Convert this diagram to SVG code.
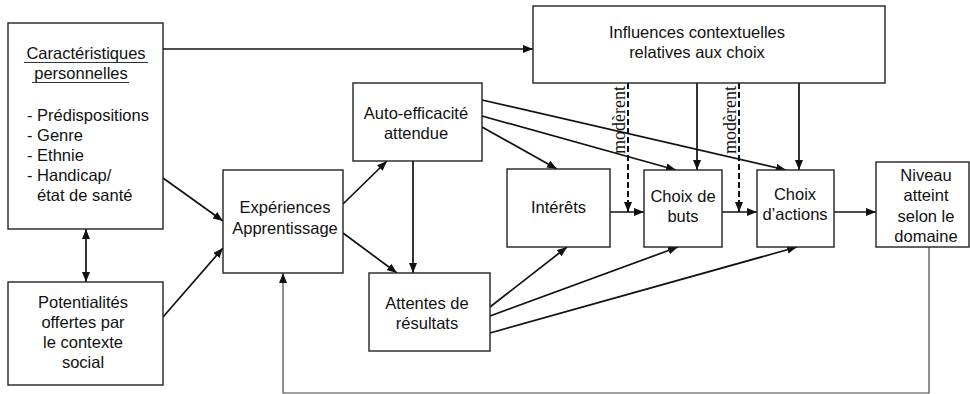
<svg xmlns="http://www.w3.org/2000/svg" width="970" height="394" viewBox="0 0 970 394">
<style>
.box{fill:#fff;stroke:#222;stroke-width:1.4}
.t{font-family:"Liberation Sans",Arial,sans-serif;font-size:16.5px;fill:#111;text-anchor:middle}
.tl{font-family:"Liberation Sans",Arial,sans-serif;font-size:16.5px;fill:#111}
.m{font-family:"Liberation Serif","Times New Roman",serif;font-size:18px;fill:#111;text-anchor:middle}
.c{fill:none;stroke:#111;stroke-width:1.7;marker-end:url(#ah)}
.d{fill:none;stroke:#111;stroke-width:2;stroke-dasharray:6 3;marker-end:url(#ah)}
.ul{stroke:#333;stroke-width:1}
</style>
<defs>
<marker id="ah" viewBox="0 0 10 8" refX="10" refY="4" markerWidth="10" markerHeight="8" markerUnits="userSpaceOnUse" orient="auto-start-reverse">
<path d="M0,0 L10,4 L0,8 z" fill="#111"/>
</marker>
</defs>
<rect width="970" height="394" fill="#fff"/>

<g id="connectors">
<path class="c" d="M163,49 H533"/>
<path class="c" style="marker-start:url(#ah)" d="M86,229 V282"/>
<path class="c" d="M163,178 L223,221"/>
<path class="c" d="M163,317 L223,248"/>
<path class="c" d="M343,204 L387,161"/>
<path class="c" d="M343,233 L397,273"/>
<path class="c" d="M413,161 V273"/>
<path class="c" d="M482,127 L557,169"/>
<path class="c" d="M482,116 L676,170"/>
<path class="c" d="M482,100 L786,170"/>
<path class="c" d="M697,83 V170"/>
<path class="c" d="M799,83 V170"/>
<path class="d" d="M628,83 V212"/>
<path class="d" d="M739,83 V212"/>
<path class="c" d="M610,212 H644"/>
<path class="c" d="M722,212 H757"/>
<path class="c" d="M834,212 H876"/>
<path class="c" d="M490,307 L567,247"/>
<path class="c" d="M490,316 L678,247"/>
<path class="c" d="M490,333 L797,247"/>
<path fill="none" stroke="#444" stroke-width="1.2" marker-end="url(#ah)" d="M929,247 V393 H283 V273"/>
<text class="m" transform="translate(625,120) rotate(-90)">modèrent</text>
<text class="m" transform="translate(736,120) rotate(-90)">modèrent</text>
</g>

<g id="caracteristiques">
<rect class="box" x="8" y="23" width="155" height="206"/>
<text class="t" x="86" y="59">Caractéristiques</text>
<line class="ul" x1="24" y1="62.5" x2="148" y2="62.5"/>
<text class="t" x="81" y="79">personnelles</text>
<line class="ul" x1="32" y1="82.5" x2="129" y2="82.5"/>
<text class="tl" x="27" y="121">- Prédispositions</text>
<text class="tl" x="27" y="141">- Genre</text>
<text class="tl" x="27" y="161">- Ethnie</text>
<text class="tl" x="27" y="181">- Handicap/</text>
<text class="tl" x="37" y="201">état de santé</text>
</g>

<g id="potentialites">
<rect class="box" x="8" y="282" width="155" height="103"/>
<text class="t" x="83" y="308">Potentialités</text>
<text class="t" x="83" y="328">offertes par</text>
<text class="t" x="83" y="348">le contexte</text>
<text class="t" x="83" y="368">social</text>
</g>

<g id="experiences">
<rect class="box" x="223" y="170" width="120" height="103"/>
<text class="t" x="285" y="213">Expériences</text>
<text class="t" x="285" y="234">Apprentissage</text>
</g>

<g id="autoefficacite">
<rect class="box" x="353" y="83" width="129" height="78"/>
<text class="t" x="416" y="119">Auto-efficacité</text>
<text class="t" x="416" y="139">attendue</text>
</g>

<g id="attentes">
<rect class="box" x="369" y="273" width="121" height="78"/>
<text class="t" x="427" y="309">Attentes de</text>
<text class="t" x="427" y="329">résultats</text>
</g>

<g id="interets">
<rect class="box" x="507" y="169" width="103" height="78"/>
<text class="t" x="558.5" y="213">Intérêts</text>
</g>

<g id="choixbuts">
<rect class="box" x="644" y="170" width="78" height="77"/>
<text class="t" x="683" y="202">Choix de</text>
<text class="t" x="683" y="222">buts</text>
</g>

<g id="choixactions">
<rect class="box" x="757" y="170" width="77" height="77"/>
<text class="t" x="795" y="200">Choix</text>
<text class="t" x="795" y="220">d’actions</text>
</g>

<g id="niveau">
<rect class="box" x="876" y="162" width="93" height="85"/>
<text class="t" x="926" y="181">Niveau</text>
<text class="t" x="926" y="201">atteint</text>
<text class="t" x="926" y="222">selon le</text>
<text class="t" x="926" y="242">domaine</text>
</g>

<g id="influences">
<rect class="box" x="533" y="6" width="352" height="77"/>
<text class="t" x="697" y="38">Influences contextuelles</text>
<text class="t" x="697" y="58">relatives aux choix</text>
</g>
</svg>
